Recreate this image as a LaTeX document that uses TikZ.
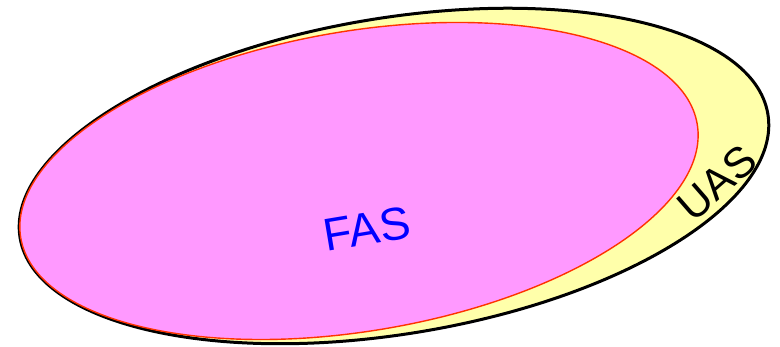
\documentclass[tikz,border=0pt]{standalone}
\usepackage{fontspec}
\setmainfont{Liberation Sans}
\begin{document}
\begin{tikzpicture}[x=1pt,y=1pt]
\definecolor{uasfill}{RGB}{255,255,170}
\definecolor{fasfill}{RGB}{255,153,255}
\definecolor{fasline}{RGB}{255,51,0}
\tikzset{
  uasset/.style={draw=black, line width=3pt, fill=uasfill},
  fasset/.style={draw=fasline, line width=1.4pt, fill=fasfill},
  lbl/.style={inner sep=0pt, font=\fontsize{#1}{#1}\selectfont},
}
\useasboundingbox (0,0) rectangle (780,-347);
\coordinate (uc) at (394,-176);
\coordinate (fc) at (359,-181);
\path[uasset, rotate around={9.4:(uc)}] (uc) ellipse [x radius=379, y radius=158];
\path[fasset, rotate around={9.55:(fc)}] (fc) ellipse [x radius=343, y radius=150];
\node[lbl=46, text=blue, rotate=9.5] (fas) at (367,-229) {FAS};
\node[lbl=43, text=black, rotate=41] (uas) at (717,-183) {UAS};
\end{tikzpicture}
\end{document}
